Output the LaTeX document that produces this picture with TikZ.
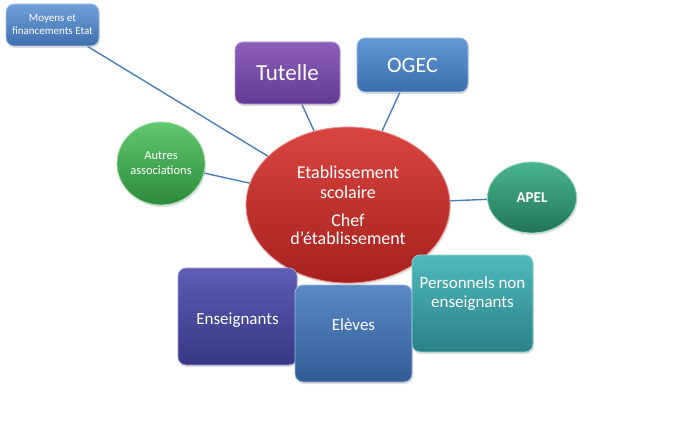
\documentclass[tikz,border=0pt]{standalone}
\usepackage{fontspec}
\setmainfont{Carlito}
\usetikzlibrary{shapes.geometric,shadows,backgrounds}
\definecolor{lineblue}{HTML}{4A7EBB}
\definecolor{moyT}{HTML}{6FA0D8}\definecolor{moyB}{HTML}{3F6FAE}
\definecolor{tutT}{HTML}{8D5FBA}\definecolor{tutB}{HTML}{643894}
\definecolor{ogeT}{HTML}{6297D4}\definecolor{ogeB}{HTML}{3C6DAE}
\definecolor{autT}{HTML}{62C86F}\definecolor{autB}{HTML}{2B8A3B}
\definecolor{redT}{HTML}{DA4541}\definecolor{redB}{HTML}{A5201D}
\definecolor{apeT}{HTML}{4AB58E}\definecolor{apeB}{HTML}{217559}
\definecolor{ensT}{HTML}{5E5CB4}\definecolor{ensB}{HTML}{383685}
\definecolor{eleT}{HTML}{5A89C6}\definecolor{eleB}{HTML}{315C96}
\definecolor{perT}{HTML}{4FB9BE}\definecolor{perB}{HTML}{2A8186}
\tikzset{
  glossy/.style 2 args={top color=#1, bottom color=#2, draw=#1!60!white, line width=0.8pt,
    text=white, inner sep=0pt, align=center,
    drop shadow={opacity=0.25, shadow xshift=1pt, shadow yshift=-2pt}},
  rbox/.style={rectangle, rounded corners=8pt},
  oval/.style={ellipse},
  conn/.style={draw=lineblue, line width=1.4pt},
  txt/.style={text=white, align=center, inner sep=0pt}
}
\begin{document}
\begin{tikzpicture}[x=1pt,y=-1pt]
\useasboundingbox (0,0) rectangle (675,428);

\node[oval, glossy={redT}{redB}, minimum width=204pt, minimum height=156pt,
  font=\fontsize{18}{20}\selectfont] (etab) at (348,205)
  {Etablissement\\scolaire\\[8pt]Chef\\[-2pt]d’établissement};

\node[rbox, glossy={moyT}{moyB}, minimum width=93pt, minimum height=42pt,
  font=\fontsize{11}{13}\selectfont] (moyens) at (52.5,25) {Moyens et\\financements Etat};
\node[rbox, glossy={tutT}{tutB}, minimum width=105pt, minimum height=62pt,
  font=\fontsize{23}{25}\selectfont] (tutelle) at (287.5,73) {Tutelle};
\node[rbox, glossy={ogeT}{ogeB}, minimum width=111pt, minimum height=54pt,
  font=\fontsize{22}{24}\selectfont] (ogec) at (412.5,65) {OGEC};
\node[oval, glossy={autT}{autB}, minimum width=88pt, minimum height=83pt,
  font=\fontsize{12.5}{15}\selectfont] (autres) at (161,163.5) {Autres\\associations};
\node[oval, glossy={apeT}{apeB}, minimum width=89pt, minimum height=71pt,
  font=\bfseries\fontsize{15}{17}\selectfont] (apel) at (532,197.5) {APEL};

\node[rbox, glossy={ensT}{ensB}, minimum width=119pt, minimum height=97pt] (ens) at (237.5,316.5) {};
\node[txt, font=\fontsize{17}{19}\selectfont] (enstxt) at (237.5,320) {Enseignants};
\node[rbox, glossy={eleT}{eleB}, minimum width=117pt, minimum height=97pt] (ele) at (353.5,333.5) {};
\node[txt, font=\fontsize{17}{19}\selectfont] (eletxt) at (353.5,325) {Elèves};
\node[rbox, glossy={perT}{perB}, minimum width=121pt, minimum height=97pt] (per) at (472.5,303.5) {};
\node[txt, font=\fontsize{17}{19}\selectfont] (pertxt) at (472.5,294) {Personnels non\\enseignants};

\begin{scope}[on background layer]
  \draw[conn] (moyens) -- (etab);
  \draw[conn] (autres) -- (etab);
  \draw[conn] (tutelle) -- (etab);
  \draw[conn] (ogec) -- (etab);
  \draw[conn] (apel) -- (etab);
\end{scope}
\end{tikzpicture}
\end{document}
